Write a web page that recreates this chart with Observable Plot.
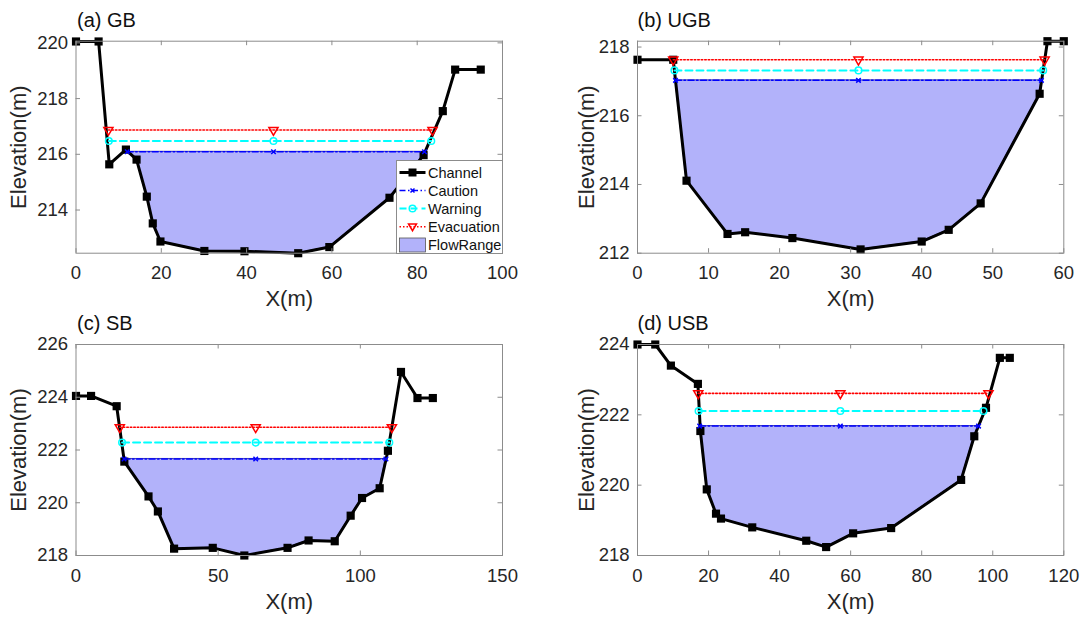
<!DOCTYPE html>
<html>
<head>
<meta charset="utf-8">
<script src="https://cdn.jsdelivr.net/npm/d3@7"></script>
<script src="https://cdn.jsdelivr.net/npm/@observablehq/plot@0.6"></script>
<style>
  html, body { margin: 0; padding: 0; background: #fff; }
  body { width: 1082px; height: 618px; position: relative; overflow: hidden;
         font-family: "Liberation Sans", Arial, Helvetica, sans-serif; }
  .panel { position: absolute; }
  .panel svg { overflow: visible; }
  #legend { position: absolute; left: 395.5px; top: 160px; width: 105px; height: 91.5px;
            background: #fff; border: 1px solid #8c8c8c; box-sizing: content-box; }
</style>
</head>
<body>
<div id="pa" class="panel" style="left:0px;top:0px"></div>
<div id="pb" class="panel" style="left:541px;top:0px"></div>
<div id="pc" class="panel" style="left:0px;top:310px"></div>
<div id="pd" class="panel" style="left:541px;top:310px"></div>
<div id="legend"></div>
<script>
// ---------------- DATA ----------------
const seriesNames = ["Channel", "Caution", "Warning", "Evacuation", "FlowRange"];

// (a) GB
const gbTitle = "(a) GB";
const gbX = [0, 5.3, 7.8, 11.7, 14.2, 16.6, 18.0, 19.8, 30.1, 39.5, 52.1, 59.4, 73.5, 81.5, 86.0, 88.9, 94.9];
const gbY = [220.05, 220.05, 215.64, 216.17, 215.81, 214.48, 213.52, 212.87, 212.53, 212.52, 212.45, 212.67, 214.44, 215.97, 217.55, 219.04, 219.04];
const gbLevels = [216.09, 216.48, 216.87];           // caution, warning, evacuation
const gbCautionX = [12.0, 46.3, 81.7];
const gbWarningX = [7.7, 46.3, 83.3];
const gbEvacX = [7.6, 46.3, 83.6];
const gbXTicks = [0, 20, 40, 60, 80, 100];
const gbYTicks = [214, 216, 218, 220];
const gbXDomain = [0, 100];
const gbYDomain = [212.45, 220.06];

// (b) UGB
const ugbTitle = "(b) UGB";
const ugbX = [0, 5.03, 6.9, 12.67, 15.15, 21.8, 31.4, 40.0, 43.8, 48.3, 56.6, 57.7, 60];
const ugbY = [217.63, 217.63, 214.11, 212.56, 212.61, 212.44, 212.11, 212.34, 212.68, 213.45, 216.64, 218.17, 218.17];
const ugbLevels = [217.03, 217.32, 217.63];
const ugbCautionX = [5.35, 31.1, 56.85];
const ugbWarningX = [5.2, 31.1, 57.1];
const ugbEvacX = [5.03, 31.1, 57.3];
const ugbXTicks = [0, 10, 20, 30, 40, 50, 60];
const ugbYTicks = [212, 214, 216, 218];
const ugbXDomain = [0, 60];
const ugbYDomain = [212, 218.17];

// (c) SB
const sbTitle = "(c) SB";
const sbX = [0, 5.3, 14.3, 17.0, 25.5, 28.8, 34.5, 48.1, 59.2, 74.4, 81.8, 91.0, 96.6, 100.6, 106.8, 109.7, 114.3, 120.1, 125.5];
const sbY = [224.05, 224.05, 223.66, 221.56, 220.24, 219.67, 218.26, 218.29, 218.0, 218.29, 218.57, 218.54, 219.51, 220.18, 220.55, 221.97, 224.96, 223.97, 223.97];
const sbLevels = [221.66, 222.28, 222.86];
const sbCautionX = [16.9, 63.2, 109.0];
const sbWarningX = [16.2, 63.2, 110.2];
const sbEvacX = [15.4, 63.2, 111.1];
const sbXTicks = [0, 50, 100, 150];
const sbYTicks = [218, 220, 222, 224, 226];
const sbXDomain = [0, 150];
const sbYDomain = [218, 226];

// (d) USB
const usbTitle = "(d) USB";
const usbX = [0, 5.0, 9.4, 17.0, 17.7, 19.5, 22.1, 23.5, 32.3, 47.5, 53.1, 60.7, 71.4, 91.1, 94.8, 98.1, 102.0, 104.8];
const usbY = [224.0, 224.0, 223.40, 222.88, 221.54, 219.88, 219.19, 219.05, 218.80, 218.42, 218.24, 218.63, 218.78, 220.15, 221.39, 222.20, 223.62, 223.62];
const usbLevels = [221.68, 222.11, 222.61];
const usbCautionX = [17.5, 57.1, 96.0];
const usbWarningX = [17.2, 57.1, 97.4];
const usbEvacX = [17.1, 57.1, 98.8];
const usbXTicks = [0, 20, 40, 60, 80, 100, 120];
const usbYTicks = [218, 220, 222, 224];
const usbXDomain = [0, 120];
const usbYDomain = [218, 224];

const xLabel = "X(m)";
const yLabel = "Elevation(m)";

// ---------------- STYLE ----------------
const C = {
  channel: "#000000", caution: "#0000ff", warning: "#00ffff", evac: "#ff0000",
  fill: "#b2b2fa", fillEdge: "#1c1c8a", frame: "#8c8c8c", text: "#262626"
};
const FONT = "Liberation Sans, Arial, Helvetica, sans-serif";

function panel(o) {
  const channel = o.X.map((x, i) => ({x, y: o.Y[i]}));
  const [lc, lw, le] = o.levels;
  const caution = o.cautionX.map(x => ({x, y: lc}));
  const warning = o.warningX.map(x => ({x, y: lw}));
  const evac = o.evacX.map(x => ({x, y: le}));
  const xl = o.cautionX[0], xr = o.cautionX[o.cautionX.length - 1];
  const flow = [{x: xl, y1: lc, y2: lc}]
    .concat(channel.filter(d => d.x > xl && d.x < xr).map(d => ({x: d.x, y1: d.y, y2: lc})))
    .concat([{x: xr, y1: lc, y2: lc}]);
  const fw = o.width - o.mL - o.mR, fh = o.height - o.mT - o.mB;
  const tk = 4.5;
  return Plot.plot({
    width: o.width, height: o.height,
    marginLeft: o.mL, marginRight: o.mR, marginTop: o.mT, marginBottom: o.mB,
    style: {background: "transparent", overflow: "visible", fontFamily: FONT, color: C.text},
    x: {domain: o.xDomain},
    y: {domain: o.yDomain},
    marks: [
      Plot.areaY(flow, {x: "x", y1: "y1", y2: "y2", fill: C.fill, stroke: C.fillEdge, strokeWidth: 0.8}),
      Plot.line(channel, {x: "x", y: "y", stroke: C.channel, strokeWidth: 3}),
      Plot.dot(channel, {x: "x", y: "y", symbol: "square", fill: C.channel, r: 4.6}),
      Plot.line(caution, {x: "x", y: "y", stroke: C.caution, strokeWidth: 1.5, strokeDasharray: "6,2.5,1.5,2.5"}),
      Plot.dot(caution, {x: "x", y: "y", symbol: "times", stroke: C.caution, r: 2.2, strokeWidth: 1.5}),
      Plot.line(warning, {x: "x", y: "y", stroke: C.warning, strokeWidth: 2, strokeDasharray: "7,4"}),
      Plot.dot(warning, {x: "x", y: "y", symbol: "circle", stroke: C.warning, fill: "none", r: 3.3, strokeWidth: 1.5}),
      Plot.line(evac, {x: "x", y: "y", stroke: C.evac, strokeWidth: 1.6, strokeDasharray: "1.5,2"}),
      Plot.dot(evac, {x: "x", y: "y", symbol: "triangle", rotate: 180, stroke: C.evac, fill: "none", r: 3.4, strokeWidth: 1.5}),
      Plot.frame({stroke: C.frame}),
      Plot.tickX(o.xTicks, {x: d => d, insetTop: fh - tk, stroke: C.frame}),
      Plot.tickX(o.xTicks, {x: d => d, insetBottom: fh - tk, stroke: C.frame}),
      Plot.tickY(o.yTicks, {y: d => d, insetRight: fw - tk, stroke: C.frame}),
      Plot.tickY(o.yTicks, {y: d => d, insetLeft: fw - tk, stroke: C.frame}),
      Plot.axisX(o.xTicks, {tickSize: 0, tickPadding: 13, fontSize: 18.5, fill: C.text, label: null}),
      Plot.axisY(o.yTicks, {tickSize: 0, tickPadding: 8, fontSize: 18.5, fill: C.text, label: null}),
      Plot.text([xLabel], {frameAnchor: "bottom", dy: 46, lineAnchor: "middle", fontSize: 22, fill: C.text}),
      Plot.text([yLabel], {frameAnchor: "left", dx: o.yLabelDx, rotate: -90, lineAnchor: "middle", textAnchor: "middle", fontSize: 22, fill: C.text}),
      Plot.text([o.title], {frameAnchor: "top-left", dx: o.titleDx, dy: o.titleDy, textAnchor: "start", lineAnchor: "bottom", fontSize: 20, fill: "#111"})
    ]
  });
}

const topRow = {height: 310, mT: 40.7, mB: 57.3, titleDy: -14};
const botRow = {height: 308, mT: 34, mB: 63, titleDy: -15};
const leftCol = {width: 541, mL: 75.5, mR: 39, yLabelDx: -57, titleDx: 1};
const rightCol = {width: 541, mL: 96, mR: 18.7, yLabelDx: -50.5, titleDx: 0};

document.getElementById("pa").append(panel({...topRow, ...leftCol, title: gbTitle, X: gbX, Y: gbY, levels: gbLevels,
  cautionX: gbCautionX, warningX: gbWarningX, evacX: gbEvacX, xTicks: gbXTicks, yTicks: gbYTicks, xDomain: gbXDomain, yDomain: gbYDomain}));
document.getElementById("pb").append(panel({...topRow, ...rightCol, title: ugbTitle, X: ugbX, Y: ugbY, levels: ugbLevels,
  cautionX: ugbCautionX, warningX: ugbWarningX, evacX: ugbEvacX, xTicks: ugbXTicks, yTicks: ugbYTicks, xDomain: ugbXDomain, yDomain: ugbYDomain}));
document.getElementById("pc").append(panel({...botRow, ...leftCol, title: sbTitle, X: sbX, Y: sbY, levels: sbLevels,
  cautionX: sbCautionX, warningX: sbWarningX, evacX: sbEvacX, xTicks: sbXTicks, yTicks: sbYTicks, xDomain: sbXDomain, yDomain: sbYDomain}));
document.getElementById("pd").append(panel({...botRow, ...rightCol, title: usbTitle, X: usbX, Y: usbY, levels: usbLevels,
  cautionX: usbCautionX, warningX: usbWarningX, evacX: usbEvacX, xTicks: usbXTicks, yTicks: usbYTicks, xDomain: usbXDomain, yDomain: usbYDomain}));

// ---------------- LEGEND (panel a) ----------------
(function legend() {
  const ns = "http://www.w3.org/2000/svg";
  const svg = document.createElementNS(ns, "svg");
  svg.setAttribute("width", 105); svg.setAttribute("height", 91.5);
  svg.style.display = "block";
  const rowY = [11.5, 29.5, 47.5, 65.7, 84];
  const x0 = 2.5, x1 = 28.5, xm = 15.5, xt = 31;
  const mk = (tag, attrs) => { const e = document.createElementNS(ns, tag); for (const k in attrs) e.setAttribute(k, attrs[k]); svg.appendChild(e); return e; };
  // Channel
  mk("line", {x1: x0, x2: x1, y1: rowY[0], y2: rowY[0], stroke: C.channel, "stroke-width": 3});
  mk("rect", {x: xm - 4, y: rowY[0] - 4, width: 8, height: 8, fill: C.channel});
  // Caution
  mk("line", {x1: x0, x2: x1, y1: rowY[1], y2: rowY[1], stroke: C.caution, "stroke-width": 1.5, "stroke-dasharray": "6,2.5,1.5,2.5"});
  mk("path", {d: `M${xm-2},${rowY[1]-2}L${xm+2},${rowY[1]+2}M${xm-2},${rowY[1]+2}L${xm+2},${rowY[1]-2}`, stroke: C.caution, "stroke-width": 1.5});
  // Warning
  mk("line", {x1: x0, x2: x1, y1: rowY[2], y2: rowY[2], stroke: C.warning, "stroke-width": 2, "stroke-dasharray": "7,4"});
  mk("circle", {cx: xm, cy: rowY[2], r: 3.3, fill: "none", stroke: C.warning, "stroke-width": 1.5});
  // Evacuation
  mk("line", {x1: x0, x2: x1, y1: rowY[3], y2: rowY[3], stroke: C.evac, "stroke-width": 1.6, "stroke-dasharray": "1.5,2"});
  mk("path", {d: `M${xm-4},${rowY[3]-2.8}L${xm+4},${rowY[3]-2.8}L${xm},${rowY[3]+4}Z`, fill: "none", stroke: C.evac, "stroke-width": 1.5});
  // FlowRange
  mk("rect", {x: x0, y: rowY[4] - 7, width: x1 - x0, height: 14, fill: C.fill, stroke: "#555", "stroke-width": 0.8});
  seriesNames.forEach((name, i) => {
    const t = mk("text", {x: xt, y: rowY[i], "dominant-baseline": "central", "font-size": 14.5, fill: "#111", "font-family": FONT});
    t.textContent = name;
  });
  document.getElementById("legend").appendChild(svg);
})();
</script>
</body>
</html>
